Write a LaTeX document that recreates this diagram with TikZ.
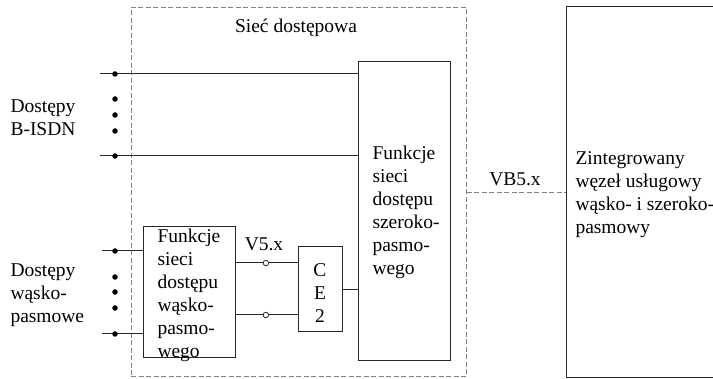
\documentclass[tikz,border=0pt]{standalone}
\usepackage{fontspec}
\setmainfont{Liberation Serif}
\begin{document}
\begin{tikzpicture}[x=1pt,y=-1pt, line width=1pt,
 box/.style={draw=black!85, rectangle, inner sep=0pt, outer sep=0pt},
 txt/.style={inner sep=0pt, font=\fontsize{19.5}{23}\selectfont, align=left},
 ctxt/.style={inner sep=0pt, font=\fontsize{19.5}{23}\selectfont, align=center},
 dotnode/.style={circle, fill=black, inner sep=0pt, minimum size=5.5pt},
 odotnode/.style={circle, draw=black!85, fill=white, inner sep=0pt, minimum size=5.5pt, line width=0.8pt},
 dline/.style={draw=black!50, dash pattern=on 5pt off 2.5pt, line width=1pt},
 wire/.style={draw=black!85, line width=1pt}
]
\useasboundingbox (0,0) rectangle (713,379);
\clip (0,0) rectangle (713,379);

% access network (dashed)
\node[rectangle, dline, minimum width=335pt, minimum height=369.5pt, inner sep=0pt] (an) at (298.5,192.25) {};
\node[ctxt] (antxt) at (296,28) {Sieć dostępowa};

% boxes
\node[box, minimum width=92pt, minimum height=299pt] (broad) at (404,211.5) {};
\node[box, minimum width=92pt, minimum height=131pt] (narrow) at (189,292.5) {};
\node[box, minimum width=44pt, minimum height=85pt] (ce) at (320,289.5) {};
\node[box, minimum width=234pt, minimum height=371.5pt] (big) at (683,192.25) {};

% box texts
\node[txt, anchor=west] (broadtxt) at ([xshift=14pt,yshift=-1pt]broad.west) {Funkcje\\sieci\\dostępu\\szeroko-\\pasmo-\\wego};
\node[txt, anchor=west] (narrowtxt) at ([xshift=14pt,yshift=-3pt]narrow.west) {Funkcje\\sieci\\dostępu\\wąsko-\\pasmo-\\wego};
\node[ctxt] (cetxt) at ([yshift=-4pt]ce.center) {C\\E\\2};
\node[txt, anchor=west] (bigtxt) at (575,194.5) {Zintegrowany\\węzeł usługowy\\wąsko- i szeroko-\\pasmowy};

% left labels
\node[txt, anchor=west] (lb1) at (10,117.5) {Dostępy\\B-ISDN};
\node[txt, anchor=west] (lb2) at (10,295.5) {Dostępy\\wąsko-\\pasmowe};

% interface labels
\node[ctxt] (v5) at (264,244) {V5.x};
\node[ctxt] (vb5) at (515,179) {VB5.x};

% B-ISDN lines
\coordinate (b1) at (100,74);
\coordinate (b2) at (100,156);
\draw[wire] (b1) -- (b1 -| broad.west);
\draw[wire] (b2) -- (b2 -| broad.west);
\node[dotnode] (bd1) at (115,74) {};
\node[dotnode] (bd2) at (115,99) {};
\node[dotnode] (bd3) at (115,115) {};
\node[dotnode] (bd4) at (115,131) {};
\node[dotnode] (bd5) at (115,156) {};

% narrowband lines
\coordinate (n1) at (102,251);
\coordinate (n2) at (102,334);
\draw[wire] (n1) -- (n1 -| narrow.west);
\draw[wire] (n2) -- (n2 -| narrow.west);
\node[dotnode] (nd1) at (115,251) {};
\node[dotnode] (nd2) at (115,277) {};
\node[dotnode] (nd3) at (115,292) {};
\node[dotnode] (nd4) at (115,308) {};
\node[dotnode] (nd5) at (115,334) {};

% V5 lines
\coordinate (c1) at ([yshift=26.5pt]ce.west);
\coordinate (c2) at ([yshift=-25.5pt]ce.west);
\draw[wire] (c1 -| narrow.east) -- node[odotnode, pos=0.49] (o1) {} (c1);
\draw[wire] (c2 -| narrow.east) -- node[odotnode, pos=0.49] (o2) {} (c2);

% CE2 to broadband
\draw[wire] (ce.east) -- (ce.east -| broad.west);

% VB5 dashed
\coordinate (vb) at (an.east |- 0,193);
\draw[dline] (vb) -- (vb -| big.west);
\end{tikzpicture}
\end{document}
